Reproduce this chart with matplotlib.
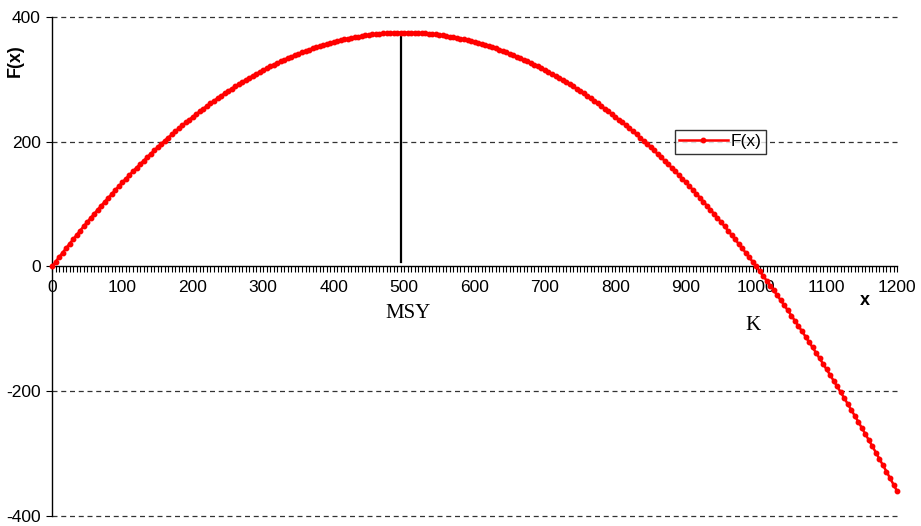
"""
Surplus production curve F(x) with MSY and carrying capacity K.
"""

import numpy as np
import matplotlib
matplotlib.use("Agg")
import matplotlib.pyplot as plt
from matplotlib.ticker import MultipleLocator

plt.rcParams['font.family'] = ['Liberation Sans', 'DejaVu Sans']
plt.rcParams['axes.unicode_minus'] = False

# stock size x, every 5 units
x_values = np.arange(0, 1201, 5)

# F(x), rows of 10 points (50 units)
f_values = [
    0.0, 7.5, 14.9, 22.2, 29.4, 36.6, 43.7, 50.6, 57.6, 64.5,
    71.3, 78.0, 84.6, 91.2, 97.7, 104.0, 110.4, 116.7, 122.9, 129.0,
    135.0, 141.0, 146.9, 152.7, 158.4, 164.0, 169.7, 175.2, 180.6, 186.0,
    191.3, 196.5, 201.6, 206.7, 211.7, 216.6, 221.4, 226.2, 230.9, 235.5,
    240.0, 244.5, 248.9, 253.2, 257.4, 261.6, 265.7, 269.7, 273.6, 277.5,
    281.3, 285.0, 288.6, 292.2, 295.7, 299.1, 302.4, 305.7, 308.9, 312.0,
    315.0, 318.0, 320.9, 323.7, 326.4, 329.1, 331.7, 334.2, 336.6, 339.0,
    341.3, 343.5, 345.6, 347.7, 349.7, 351.6, 353.4, 355.2, 356.9, 358.5,
    360.0, 361.5, 362.9, 364.2, 365.4, 366.6, 367.7, 368.7, 369.6, 370.5,
    371.3, 372.0, 372.6, 373.2, 373.7, 374.1, 374.4, 374.7, 374.9, 375.0,
    375.0, 375.0, 374.9, 374.7, 374.4, 374.1, 373.7, 373.2, 372.6, 372.0,
    371.3, 370.5, 369.6, 368.7, 367.7, 366.6, 365.4, 364.2, 362.9, 361.5,
    360.0, 358.5, 356.9, 355.2, 353.4, 351.6, 349.7, 347.7, 345.6, 343.5,
    341.3, 339.0, 336.6, 334.2, 331.7, 329.1, 326.4, 323.7, 320.9, 318.0,
    315.0, 312.0, 308.9, 305.7, 302.4, 299.1, 295.7, 292.2, 288.6, 285.0,
    281.3, 277.5, 273.6, 269.7, 265.7, 261.6, 257.4, 253.2, 248.9, 244.5,
    240.0, 235.5, 230.9, 226.2, 221.4, 216.6, 211.7, 206.7, 201.6, 196.5,
    191.3, 186.0, 180.6, 175.2, 169.7, 164.0, 158.4, 152.7, 146.9, 141.0,
    135.0, 129.0, 122.9, 116.7, 110.4, 104.0, 97.7, 91.2, 84.6, 78.0,
    71.3, 64.5, 57.6, 50.6, 43.7, 36.6, 29.4, 22.2, 14.9, 7.5,
    0.0, -7.5, -15.2, -22.8, -30.6, -38.4, -46.4, -54.3, -62.4, -70.5,
    -78.8, -87.0, -95.4, -103.8, -112.4, -120.9, -129.6, -138.3, -147.2, -156.0,
    -165.0, -174.0, -183.2, -192.3, -201.6, -210.9, -220.4, -229.8, -239.4, -249.0,
    -258.8, -268.5, -278.4, -288.3, -298.4, -308.4, -318.6, -328.8, -339.2, -349.5,
    -360.0,
]

msy_x = 495
msy_top = 375
x_ticks = list(range(0, 1201, 100))
y_ticks = [-400, -200, 0, 200, 400]

fig = plt.figure(figsize=(9.21, 5.26), dpi=100)
ax = fig.add_axes([0.0565, 0.019, 0.9175, 0.9487])

ax.plot(x_values, f_values, color='red', lw=1.8, marker='o', markersize=3.2,
        label='F(x)', clip_on=False, zorder=3)

# MSY marker line
ax.plot([msy_x, msy_x], [8, msy_top], color='black', lw=1.6)

ax.set_xlim(0, 1200)
ax.set_ylim(-400, 400)

# gridlines (dashed) except at zero
for y in [-400, -200, 200, 400]:
    ax.axhline(y, color='#333333', lw=0.9, ls=(0, (4, 3)), zorder=0,
               clip_on=False)

ax.spines['top'].set_visible(False)
ax.spines['right'].set_visible(False)
ax.spines['bottom'].set_position(('data', 0))
ax.spines['left'].set_linewidth(1.0)
ax.spines['bottom'].set_linewidth(1.0)

ax.set_xticks(x_ticks)
ax.xaxis.set_minor_locator(MultipleLocator(5))
ax.tick_params(axis='x', which='both', direction='out', length=4, width=0.8,
               labelsize=12.5, pad=6)
ax.set_yticks(y_ticks)
ax.tick_params(axis='y', direction='out', length=4, width=0.8,
               labelsize=12.5, pad=4)

ax.text(-52, 330, 'F(x)', rotation=90, fontsize=13, fontweight='bold',
        ha='center', va='center')
ax.text(1155, -55, 'x', fontsize=13, fontweight='bold', ha='center', va='center')
ax.text(505, -75, 'MSY', fontsize=15, family='Liberation Serif',
        ha='center', va='center')
ax.text(995, -95, 'K', fontsize=15, family='Liberation Serif',
        ha='center', va='center')

leg = ax.legend(loc='center left', bbox_to_anchor=(0.737, 0.75), fontsize=12.5,
                frameon=True, fancybox=False, edgecolor='black',
                borderpad=0.25, handlelength=2.8, handletextpad=0.15,
                borderaxespad=0)
leg.get_frame().set_linewidth(1.0)

fig.savefig('out.png', dpi=100)
